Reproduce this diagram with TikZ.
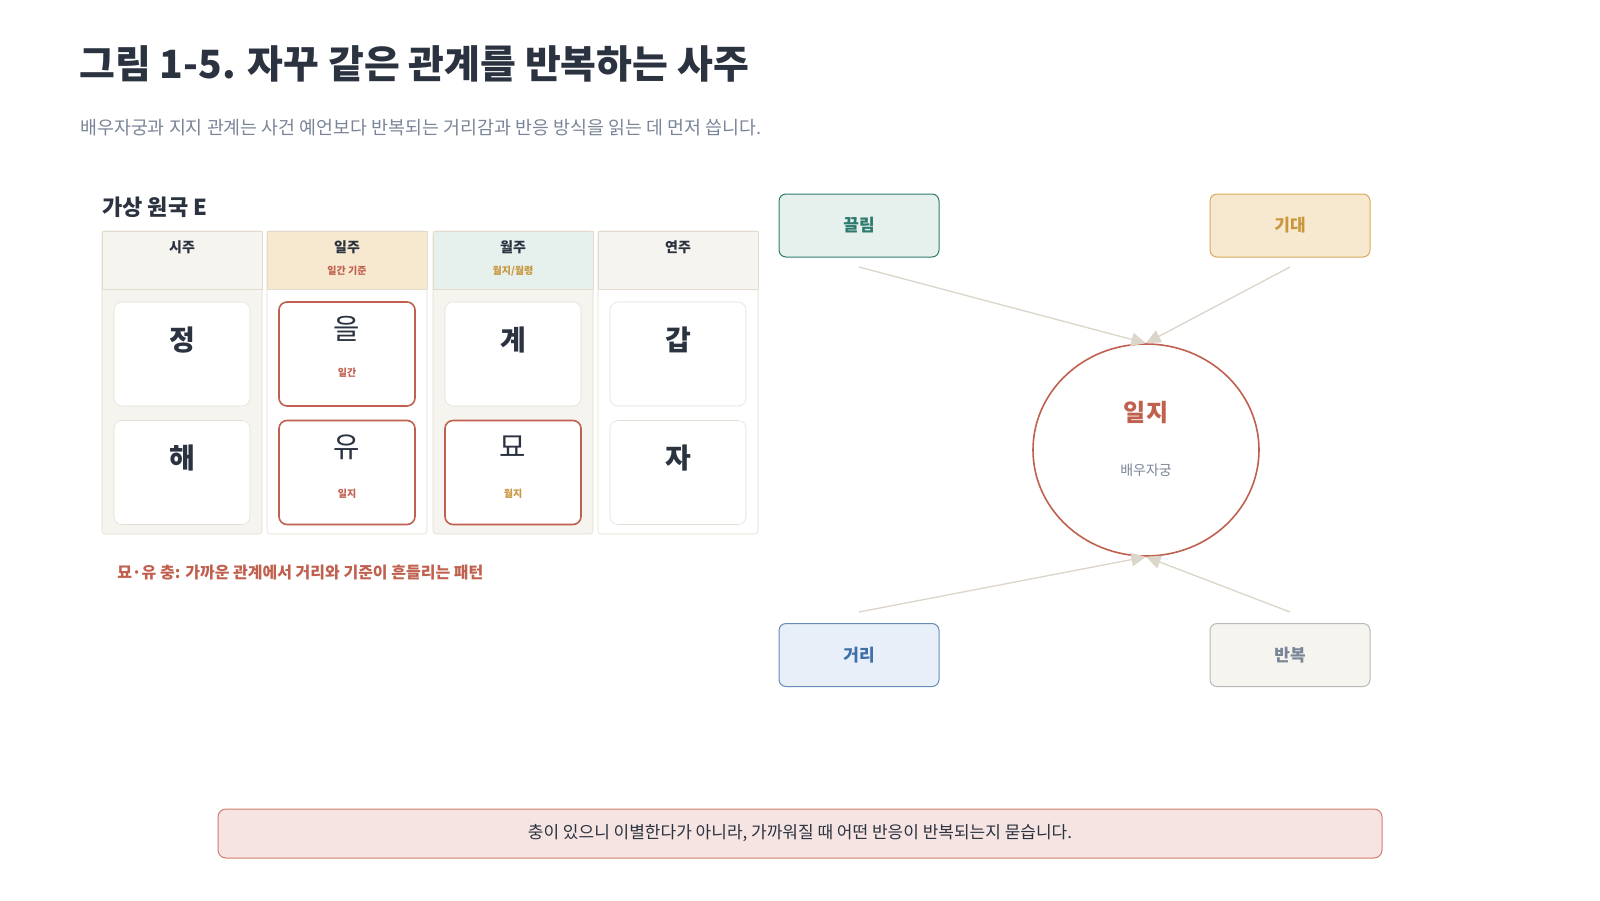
\documentclass[tikz,border=0pt]{standalone}
\usepackage{fontspec}
\setmainfont{Noto Sans CJK KR}
\usetikzlibrary{positioning,arrows.meta,shapes.geometric}

\newlength{\unitpx}
\setlength{\unitpx}{0.75pt}

\definecolor{ink}{HTML}{2B3340}
\definecolor{muted}{HTML}{7A8597}
\definecolor{paper}{HTML}{F6F4EF}
\definecolor{rule}{HTML}{E2DBCE}
\definecolor{cellrule}{HTML}{E3DED5}
\definecolor{rust}{HTML}{C0604F}
\definecolor{gold}{HTML}{C8963E}
\definecolor{goldpale}{HTML}{F7E9CF}
\definecolor{goldline}{HTML}{D8A95E}
\definecolor{teal}{HTML}{2F7A6E}
\definecolor{tealpale}{HTML}{E6F1EE}
\definecolor{blue}{HTML}{3F6EA8}
\definecolor{bluepale}{HTML}{E8EFF8}
\definecolor{greyline}{HTML}{B8B8B8}
\definecolor{link}{HTML}{DCD5C9}
\definecolor{rosepale}{HTML}{F6E4E2}
\definecolor{roseline}{HTML}{D07C6E}

\begin{document}
\begin{tikzpicture}[
    x=0.75pt, y=-0.75pt,
    every node/.style = {inner sep=0pt},
    ttl/.style = {anchor=west, text=ink, font=\bfseries\fontsize{29.2}{34}\selectfont},
    subttl/.style = {anchor=west, text=muted, font=\fontsize{13.8}{16}\selectfont},
    colbody/.style = {rectangle, rounded corners=3\unitpx, draw=rule,
                      minimum width=160\unitpx, minimum height=303\unitpx},
    colhead/.style = {rectangle, draw=rule, minimum width=160\unitpx, minimum height=58\unitpx},
    headtxt/.style = {text=ink, font=\bfseries\fontsize{10.5}{12}\selectfont},
    headsub/.style = {font=\bfseries\fontsize{7.5}{9}\selectfont},
    cell/.style = {rectangle, rounded corners=8\unitpx, draw=cellrule, fill=white,
                   minimum width=136\unitpx, minimum height=104\unitpx},
    keycell/.style = {cell, draw=rust, line width=1.6\unitpx},
    stem/.style = {text=ink, font=\bfseries\fontsize{21}{24}\selectfont},
    keystem/.style = {text=ink, font=\fontsize{21.5}{24}\selectfont},
    celltag/.style = {font=\bfseries\fontsize{7.5}{9}\selectfont},
    factor/.style = {rectangle, rounded corners=7\unitpx, line width=1\unitpx,
                     minimum width=160\unitpx, minimum height=63\unitpx,
                     font=\bfseries\fontsize{12.75}{15}\selectfont},
    conn/.style = {draw=link, line width=1pt,
                   -{Triangle[length=11pt, width=10pt, fill=link]}},
    >=Stealth
]
\useasboundingbox (0,0) rectangle (1600,900);

% --- Title ---
\node[ttl] (title) at (79,64) {그림 1-5. 자꾸 같은 관계를 반복하는 사주};
\node[subttl] (subtitle) at (80,128) {배우자궁과 지지 관계는 사건 예언보다 반복되는 거리감과 반응 방식을 읽는 데 먼저 씁니다.};

% --- Chart: four pillars ---
\node[anchor=west, text=ink, font=\bfseries\fontsize{16.5}{19}\selectfont] (chartname) at (102,207) {가상 원국 E};

\node[colbody, fill=paper] (hourcol) at (182,382.5) {};
\node[colbody, fill=white] (daycol) at (347,382.5) {};
\node[colbody, fill=paper] (monthcol) at (513,382.5) {};
\node[colbody, fill=white] (yearcol) at (678,382.5) {};

\node[colhead, fill=paper] (hourhead) at (182,260) {};
\node[colhead, fill=goldpale] (dayhead) at (347,260) {};
\node[colhead, fill=tealpale] (monthhead) at (513,260) {};
\node[colhead, fill=paper] (yearhead) at (678,260) {};

\node[headtxt] (hourname) at (182,247) {시주};
\node[headtxt] (dayname) at (347,247) {일주};
\node[headsub, text=rust] (daynote) at (347,271) {일간 기준};
\node[headtxt] (monthname) at (513,247) {월주};
\node[headsub, text=gold] (monthnote) at (513,271) {월지/월령};
\node[headtxt] (yearname) at (678,247) {연주};

% stems (top row)
\node[cell] (hourstem) at (182,354) {};
\node[keycell] (daystem) at (347,354) {};
\node[cell] (monthstem) at (513,354) {};
\node[cell] (yearstem) at (678,354) {};
\node[stem] at (182,340) {정};
\node[keystem] at (347,329) {을};
\node[celltag, text=rust] at (347,373) {일간};
\node[stem] at (513,340) {계};
\node[stem] at (678,340) {갑};

% branches (bottom row)
\node[cell] (hourbranch) at (182,472.5) {};
\node[keycell] (daybranch) at (347,472.5) {};
\node[keycell] (monthbranch) at (513,472.5) {};
\node[cell] (yearbranch) at (678,472.5) {};
\node[stem] at (182,458) {해};
\node[keystem] at (347,447) {유};
\node[celltag, text=rust] at (347,494) {일지};
\node[keystem] at (513,447) {묘};
\node[celltag, text=gold] at (513,494) {월지};
\node[stem] at (678,458) {자};

\node[anchor=west, text=rust, font=\bfseries\fontsize{12}{14}\selectfont] (clash) at (117,573)
    {묘·유 충: 가까운 관계에서 거리와 기준이 흔들리는 패턴};

% --- Spouse palace and its four pulls ---
\node[ellipse, draw=rust, line width=1.6\unitpx, fill=white,
      minimum width=226\unitpx, minimum height=212\unitpx] (ilji) at (1146,450) {};
\node[text=rust, font=\bfseries\fontsize{18}{21}\selectfont] (iljiname) at (1146,413) {일지};
\node[text=muted, font=\fontsize{10.5}{12}\selectfont] (iljinote) at (1146,470) {배우자궁};

\node[factor, draw=teal, fill=tealpale, text=teal] (pull) at (859,225.5) {끌림};
\node[factor, draw=goldline, fill=goldpale, text=gold] (hope) at (1290,225.5) {기대};
\node[factor, draw=blue!80, fill=bluepale, text=blue] (distance) at (859,655) {거리};
\node[factor, draw=greyline, fill=paper, text=muted] (repeat) at (1290,655) {반복};

\coordinate (pullfoot) at (859,267);
\coordinate (hopefoot) at (1290,267);
\coordinate (distancefoot) at (859,612);
\coordinate (repeatfoot) at (1290,612);

\draw[conn] (pullfoot) -- (ilji.north);
\draw[conn] (hopefoot) -- (ilji.north);
\draw[conn] (distancefoot) -- (ilji.south);
\draw[conn] (repeatfoot) -- (ilji.south);

% --- Bottom note ---
\node[rectangle, rounded corners=8\unitpx, draw=roseline, fill=rosepale, line width=1\unitpx,
      minimum width=1164\unitpx, minimum height=49\unitpx,
      text=ink, font=\fontsize{12.75}{15}\selectfont] (takeaway) at (800,833.5)
    {충이 있으니 이별한다가 아니라, 가까워질 때 어떤 반응이 반복되는지 묻습니다.};

\end{tikzpicture}
\end{document}
